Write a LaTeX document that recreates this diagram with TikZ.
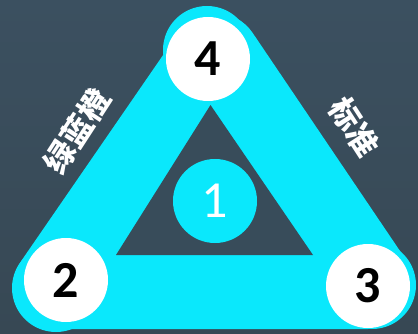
\documentclass[tikz,border=0pt]{standalone}
\usepackage{fontspec}
\setmainfont{Carlito}
\newfontfamily\cjk{Noto Sans CJK SC}
\usepackage{xcolor}
\usepackage{tikz}
\usetikzlibrary{calc}

\definecolor{bgtop}{RGB}{59,80,96}
\definecolor{bgbot}{RGB}{55,72,84}
\definecolor{bghole}{RGB}{56,76,90}
\definecolor{ribbon}{RGB}{10,232,252}

\begin{document}
\begin{tikzpicture}[x=1pt, y=-1pt,
    corner/.style={circle, fill=white, minimum size=84pt, inner sep=0pt,
      font=\fontsize{52}{52}\selectfont\bfseries},
    hub/.style={circle, fill=ribbon, minimum size=84pt, inner sep=0pt,
      text=white, font=\fontsize{52}{52}\selectfont},
    side/.style={text=white, inner sep=0pt,
      font=\cjk\bfseries\fontsize{31}{31}\selectfont}
]
\shade[top color=bgtop, bottom color=bgbot] (0,0) rectangle (418,334);
\useasboundingbox (0,0) rectangle (418,334);
% ribbon round the three corners
\coordinate (t) at (215.5,58.3);
\coordinate (l) at (60,284);
\coordinate (r) at (368,284);
\filldraw[ribbon, line width=90pt, line join=round] (t) -- (l) -- (r) -- cycle;
\fill[ribbon] (207,50) circle (44pt);
\fill[ribbon] (56,288) circle (44pt);
\fill[ribbon] (372,285) circle (44pt);
\fill[bghole] (210.5,105) -- (116,255) -- (313,255) -- cycle;
% numbers
\node[hub]    (one)   at (215,201) {1};
\node[corner] (four)  at (208,59)  {4};
\node[corner] (two)   at (66,280)  {2};
\node[corner] (three) at (368,286) {3};
% side labels
\node[side, rotate=57]  (leftlabel)  at (77,131)  {绿蓝橙};
\node[side, rotate=-57] (rightlabel) at (354,127) {标准};
\end{tikzpicture}
\end{document}
